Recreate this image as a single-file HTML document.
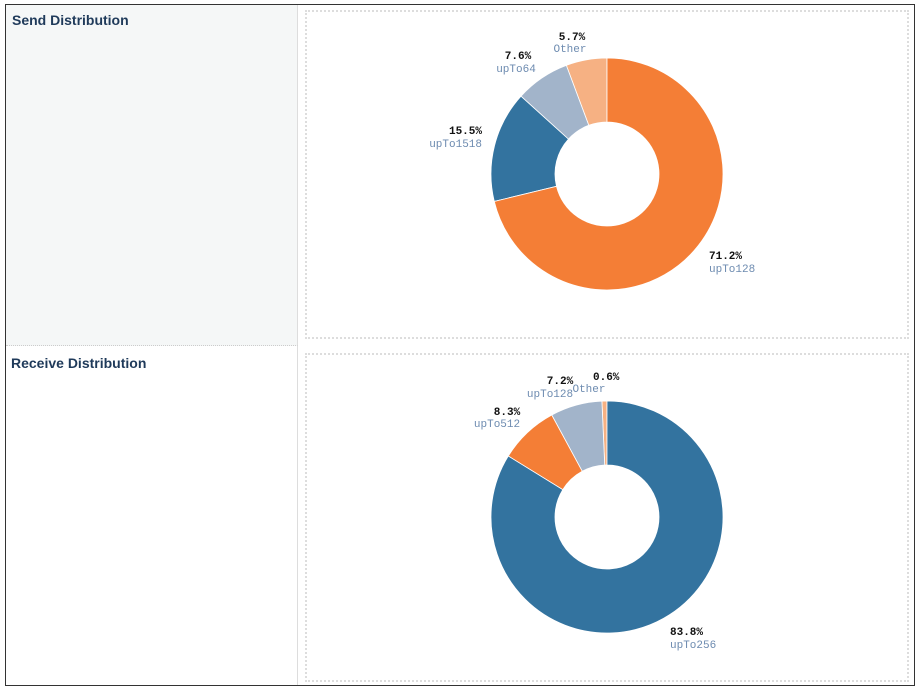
<!DOCTYPE html>
<html><head><meta charset="utf-8"><style>
html,body{margin:0;padding:0;background:#fff;width:919px;height:689px;overflow:hidden}
#wrap{position:absolute;left:5px;top:4px;width:908px;height:680px;border:1.5px solid #333;}
.cell{position:absolute;font-family:"Liberation Sans",sans-serif;font-weight:bold;font-size:14px;color:#1f3a5a;}
svg text{font-family:"Liberation Mono","DejaVu Sans Mono",monospace;font-size:11px}
.p{font-weight:bold;fill:#111}
.l{fill:#6d8bb0}
</style></head><body>
<div id="wrap">
<div style="position:absolute;left:0;top:0;width:291px;height:340px;background:#f5f7f7;border-right:1px solid #ddd;border-bottom:1px dotted #ccc"></div>
<div style="position:absolute;left:0;top:341px;width:291px;height:339px;background:#fff;border-right:1px solid #ddd"></div>
<div class="cell" style="left:6px;top:7px">Send Distribution</div>
<div class="cell" style="left:5px;top:350px">Receive Distribution</div>
<div style="position:absolute;left:299px;top:5px;width:600px;height:325px;border:2px dotted #ddd"></div>
<div style="position:absolute;left:299px;top:348px;width:600px;height:325px;border:2px dotted #ddd"></div>
</div>
<svg id="s" width="919" height="689" style="position:absolute;left:0;top:0">
<text class="p" x="572" y="40" text-anchor="middle">5.7%</text>
<text class="l" x="570" y="52" text-anchor="middle">Other</text>
<text class="p" x="518" y="59" text-anchor="middle">7.6%</text>
<text class="l" x="516" y="72" text-anchor="middle">upTo64</text>
<text class="p" x="482" y="134" text-anchor="end">15.5%</text>
<text class="l" x="482" y="147" text-anchor="end">upTo1518</text>
<text class="p" x="709" y="259">71.2%</text>
<text class="l" x="709" y="272">upTo128</text>
<text class="p" x="593" y="380">0.6%</text>
<text class="l" x="589" y="392" text-anchor="middle">Other</text>
<text class="p" x="560" y="384" text-anchor="middle">7.2%</text>
<text class="l" x="550" y="397" text-anchor="middle">upTo128</text>
<text class="p" x="507" y="415" text-anchor="middle">8.3%</text>
<text class="l" x="497" y="427" text-anchor="middle">upTo512</text>
<text class="p" x="670" y="635">83.8%</text>
<text class="l" x="670" y="648">upTo256</text>
</svg>
<script>
var s=document.getElementById('s'),NS='http://www.w3.org/2000/svg';
function donut(cx,cy,R,r,data){var a=0;data.forEach(function(d){var a2=a+d[0]/100*2*Math.PI;
function P(rr,t){return (cx+rr*Math.sin(t)).toFixed(2)+','+(cy-rr*Math.cos(t)).toFixed(2)}
var lg=(a2-a)>Math.PI?1:0;
var p=document.createElementNS(NS,'path');
p.setAttribute('d','M'+P(R,a)+'A'+R+','+R+' 0 '+lg+' 1 '+P(R,a2)+'L'+P(r,a2)+'A'+r+','+r+' 0 '+lg+' 0 '+P(r,a)+'Z');
p.setAttribute('fill',d[1]);p.setAttribute('stroke','#fff');p.setAttribute('stroke-width','0.8');
s.insertBefore(p,s.firstChild);a=a2;});}
donut(607,174,116,52,[[71.2,'#f47e36'],[15.5,'#33739f'],[7.6,'#a2b4ca'],[5.7,'#f6b183']]);
donut(607,517,116,52,[[83.8,'#33739f'],[8.3,'#f47e36'],[7.2,'#a2b4ca'],[0.7,'#f6b183']]);
</script>
</body></html>
